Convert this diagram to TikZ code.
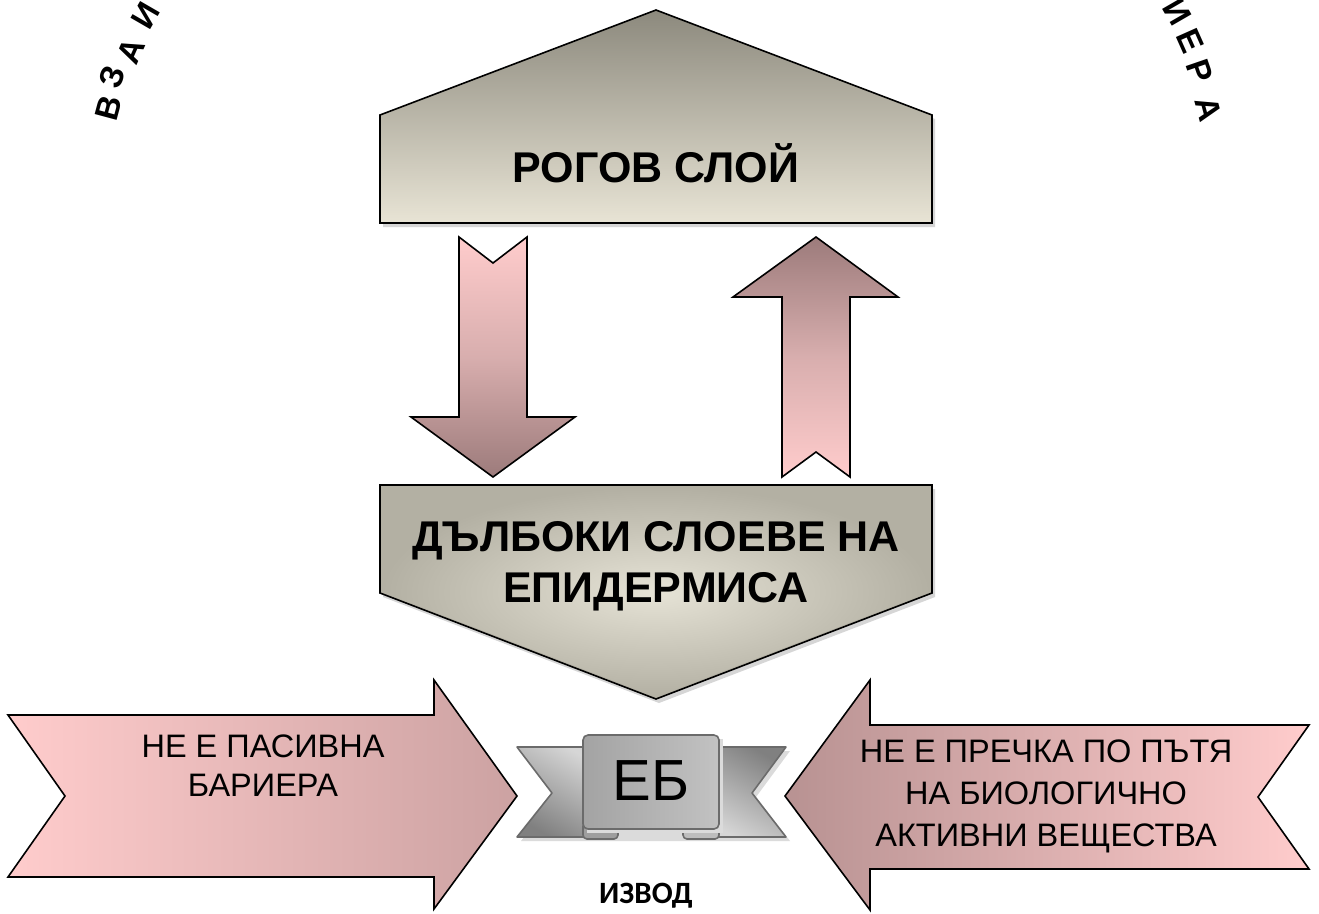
\documentclass[tikz,border=0pt]{standalone}
\usepackage{fontspec}
\setmainfont{Liberation Sans}
\newfontfamily\calib{Carlito}
\definecolor{pinkL}{HTML}{FFCCCC}
\definecolor{pinkM}{HTML}{D8AEAE}
\definecolor{mauve}{HTML}{9C7B7B}
\definecolor{pinkR}{HTML}{CCA2A2}
\definecolor{pinkT}{HTML}{B89292}
\definecolor{grayT}{HTML}{8C897D}
\definecolor{grayB}{HTML}{E8E4D5}
\definecolor{grayO}{HTML}{B3B0A3}
\definecolor{grayI}{HTML}{E6E3D6}
\definecolor{bord}{HTML}{6B6B6B}
\begin{document}
\begin{tikzpicture}[x=1pt,y=-1pt]
\tikzset{
  outl/.style={draw=black, line width=1.6pt, line join=miter},
  shad/.style={fill=black!16},
  bigtxt/.style={font=\bfseries\fontsize{43}{50}\selectfont, anchor=base},
  arrtxt/.style={font=\fontsize{32.5}{38}\selectfont, anchor=base},
  arcl/.style={font=\bfseries\fontsize{33}{38}\selectfont, inner sep=0pt},
  bandline/.style={draw=bord, line width=1.6pt, line join=round},
}
\useasboundingbox (0,0) rectangle (1319,913);
\fill[white] (0,0) rectangle (1319,913);

% arc letters
\node[arcl, rotate=75] (l1) at (109,108) {В};
\node[arcl, rotate=71] (l2) at (112,77) {З};
\node[arcl, rotate=66] (l3) at (131,51) {А};
\node[arcl, rotate=60] (l4) at (146,16) {И};
\node[arcl, rotate=-60] (r1) at (1177,12) {И};
\node[arcl, rotate=-66] (r2) at (1190,41) {Е};
\node[arcl, rotate=-71] (r3) at (1200,71) {Р};
\node[arcl, rotate=-75] (r4) at (1209,109) {А};

% top pentagon
\fill[shad] (383,119) -- (659,14) -- (935,119) -- (935,227) -- (383,227) -- cycle;
\path[outl, top color=grayT, bottom color=grayB]
  (380,115) -- (656,10) -- (932,115) -- (932,223) -- (380,223) -- cycle;
\node[bigtxt] (rogov) at (656,182) {РОГОВ СЛОЙ};

% vertical arrows
\path[outl, top color=pinkL, bottom color=mauve, middle color=pinkM]
  (459,237) -- (493,263) -- (527,237) -- (527,417) -- (575,417) -- (493,477)
  -- (411,417) -- (459,417) -- cycle;
\path[outl, top color=mauve, bottom color=pinkL, middle color=pinkM]
  (816,237) -- (898,297) -- (850,297) -- (850,477) -- (816,452) -- (782,477)
  -- (782,297) -- (733,297) -- cycle;

% bottom pentagon
\fill[shad] (383,489) -- (935,489) -- (935,597) -- (659,703) -- (383,597) -- cycle;
\path[fill=grayO]
  (380,485) -- (932,485) -- (932,593) -- (656,699) -- (380,593) -- cycle;
\shade[inner color=grayI, outer color=grayO]
  (382,487) -- (930,487) -- (930,592) -- (656,697) -- (382,592) -- cycle;
\draw[outl] (380,485) -- (932,485) -- (932,593) -- (656,699) -- (380,593) -- cycle;
\node[bigtxt] (deep1) at (656,551) {ДЪЛБОКИ СЛОЕВЕ НА};
\node[bigtxt] (deep2) at (656,602) {ЕПИДЕРМИСА};

% left big arrow
\path[outl, left color=pinkL, right color=pinkR]
  (8,715) -- (434,715) -- (434,680) -- (517,796) -- (434,909) -- (434,877)
  -- (8,877) -- (65,796) -- cycle;
\node[arrtxt] (lt1) at (263,757) {НЕ Е ПАСИВНА};
\node[arrtxt] (lt2) at (263,796) {БАРИЕРА};

% right big arrow
\path[outl, left color=pinkT, right color=pinkL]
  (785,796) -- (870,680) -- (870,725) -- (1309,725) -- (1258,797) -- (1309,869)
  -- (870,869) -- (870,910) -- cycle;
\node[arrtxt] (rt1) at (1046,762) {НЕ Е ПРЕЧКА ПО ПЪТЯ};
\node[arrtxt] (rt2) at (1046,804) {НА БИОЛОГИЧНО};
\node[arrtxt] (rt3) at (1046,846) {АКТИВНИ ВЕЩЕСТВА};

% banner EB
\fill[black!14] (521,751) -- (790,751) -- (756,797) -- (790,841) -- (521,841) -- (556,797) -- cycle;
\path[bandline, top color=black!16, bottom color=black!50, shading angle=-30]
  (517,747) -- (600,747) -- (600,837) -- (517,837) -- (552,793) -- cycle;
\path[bandline, top color=black!50, bottom color=black!16, shading angle=-30]
  (786,747) -- (702,747) -- (702,837) -- (786,837) -- (752,793) -- cycle;
\path[bandline, fill=black!38, rounded corners=4] (583,822) rectangle (618,839);
\path[bandline, fill=black!26, rounded corners=4] (683,822) rectangle (719,839);
\fill[black!14] (587,739) rectangle (723,833);
\path[bandline, rounded corners=5, left color=black!36, middle color=black!15, right color=black!24]
  (583,735) rectangle (719,829);
\node[font=\fontsize{58}{60}\selectfont, anchor=base] (eb) at (651,800) {ЕБ};

\node[font=\calib\bfseries\fontsize{31}{33}\selectfont, anchor=base] (izvod) at (646,903) {ИЗВОД};
\end{tikzpicture}
\end{document}
